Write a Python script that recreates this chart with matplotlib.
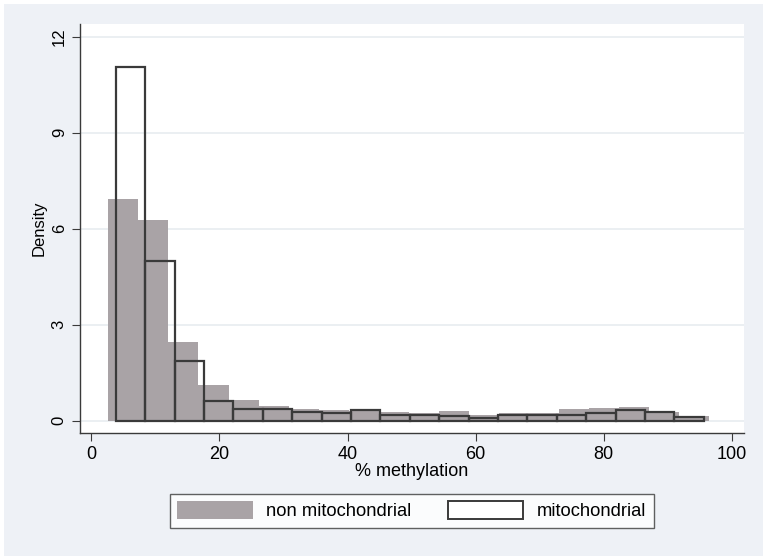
import matplotlib
matplotlib.use('Agg')
from matplotlib import pyplot as plt
from matplotlib.patches import Patch, Rectangle

plt.rcParams['font.family'] = ['Liberation Sans', 'DejaVu Sans']

# bin edges (% methylation)
non_start, non_width = 2.66, 4.69
mito_start, mito_width = 3.81, 4.59

# densities per bin
non_mito = [6.94, 6.28, 2.46, 1.11, 0.64, 0.45, 0.38, 0.33, 0.32, 0.27,
            0.25, 0.30, 0.19, 0.25, 0.24, 0.38, 0.39, 0.42, 0.28, 0.15]
mito = [11.05, 5.01, 1.875, 0.61, 0.36, 0.36, 0.28, 0.26, 0.35, 0.19,
        0.19, 0.15, 0.09, 0.19, 0.17, 0.17, 0.24, 0.35, 0.28, 0.12]

x_ticks = [0, 20, 40, 60, 80, 100]
y_ticks = [0, 3, 6, 9, 12]

bg = '#eef1f6'
gray = '#a9a3a6'
dark = '#3a3a3a'

fig = plt.figure(figsize=(7.68, 5.6), dpi=100, facecolor='white')
fig.patches.append(Rectangle((4 / 768, 4 / 560), 759 / 768, 552 / 560,
                             transform=fig.transFigure, facecolor=bg,
                             edgecolor='none', zorder=-10))
ax = fig.add_axes([80 / 768, (560 - 433) / 560, 664 / 768, 409 / 560])
ax.set_facecolor('white')

non_left = [non_start + i * non_width for i in range(len(non_mito))]
mito_left = [mito_start + i * mito_width for i in range(len(mito))]

ax.bar(non_left, non_mito, width=non_width, align='edge', color=gray,
       edgecolor='none', zorder=2)
ax.bar(mito_left, mito, width=mito_width, align='edge', fill=False,
       edgecolor=dark, linewidth=1.6, zorder=3)

ax.set_xlim(-1.77, 101.9)
ax.set_ylim(-0.38, 12.4)
ax.set_xticks(x_ticks)
ax.set_yticks(y_ticks)
ax.set_yticklabels([str(v) for v in y_ticks], rotation=90, va='center',
                   fontsize=12)
ax.tick_params(axis='x', labelsize=13, length=6, color=dark)
ax.tick_params(axis='y', length=6, color=dark)

for v in y_ticks:
    ax.axhline(v, color='#ebeff2', linewidth=1.4, zorder=1)

for s in ['top', 'right']:
    ax.spines[s].set_visible(False)
for s in ['left', 'bottom']:
    ax.spines[s].set_color(dark)
    ax.spines[s].set_linewidth(1.0)

ax.set_xlabel('% methylation', fontsize=13, labelpad=0)
ax.set_ylabel('Density', fontsize=12, labelpad=4)

handles = [Patch(facecolor=gray, edgecolor='none', label='non mitochondrial'),
           Patch(facecolor='white', edgecolor=dark, linewidth=1.4,
                 label='mitochondrial')]
leg = fig.legend(handles=handles, ncol=2, loc='upper center',
                 bbox_to_anchor=(412 / 768, 1 - 494 / 560),
                 fontsize=13.2, frameon=True, fancybox=False,
                 handlelength=4.1, handleheight=1.1, handletextpad=0.75,
                 columnspacing=2.0, borderpad=0.4, borderaxespad=0)
leg.get_frame().set_edgecolor(dark)
leg.get_frame().set_linewidth(1.0)
leg.get_frame().set_facecolor('white')

fig.savefig('out.png', dpi=100, facecolor=fig.get_facecolor())
